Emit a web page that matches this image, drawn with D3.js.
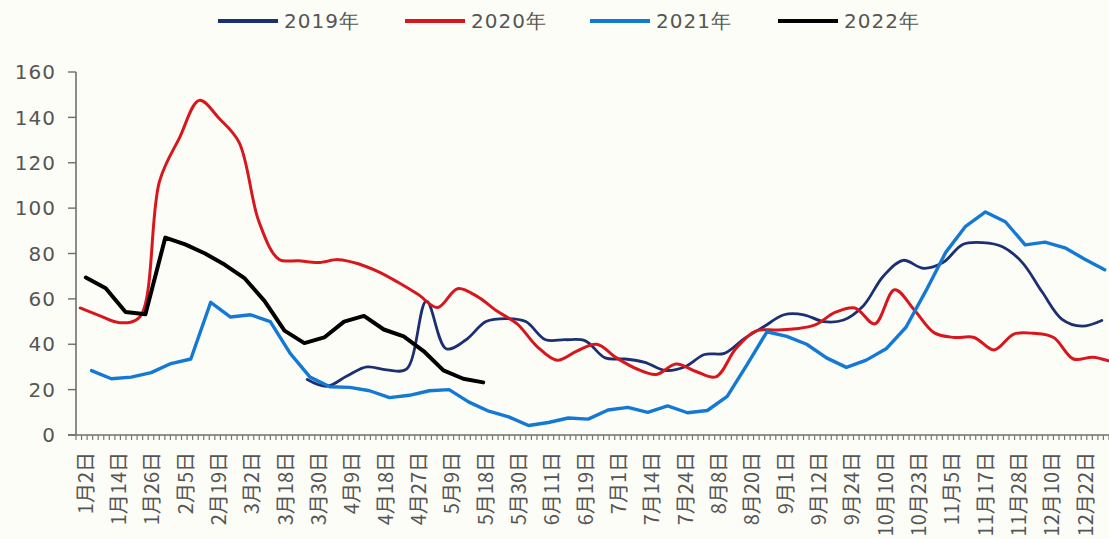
<!DOCTYPE html>
<html>
<head>
<meta charset="utf-8">
<script src="https://cdn.jsdelivr.net/npm/d3@7"></script>
<style>
  html, body { margin: 0; padding: 0; background: #fdfdf7; }
  svg { display: block; }
</style>
</head>
<body>
<div id="chart"></div>
<script>
// x axis labels (one every six minor ticks)
const dateLabels = ['1月2日', '1月14日', '1月26日', '2月5日', '2月19日', '3月2日', '3月18日', '3月30日',
  '4月9日', '4月18日', '4月27日', '5月9日', '5月18日', '5月30日', '6月11日', '6月19日', '7月1日',
  '7月14日', '7月24日', '8月8日', '8月20日', '9月1日', '9月12日', '9月24日', '10月10日', '10月23日',
  '11月5日', '11月17日', '11月28日', '12月10日', '12月22日']
const yTicks = [0, 20, 40, 60, 80, 100, 120, 140, 160]

const seriesNames = ['2019年', '2020年', '2021年', '2022年']
// day of year of each series' first weekly reading
const startDays = [79, -1, 3, 1]

const values2019 = [24.5, 21.5, 26, 30, 28.7, 29, 59, 38, 42, 50, 51.3, 50, 42, 42, 41.5, 34, 33.5, 32,
  28.5, 30, 35.5, 36, 42.5, 47.8, 53, 53, 50, 50.7, 57, 70, 77, 73.5, 76, 84, 84.8, 83, 76, 63, 51, 48, 50.5]
const values2020 = [56, 52.5, 49.5, 52, 112, 131, 147.5, 139.5, 129, 94, 77.5, 76.8, 76, 77.3, 75.5, 72,
  67.3, 62, 56.2, 64.5, 61, 54.5, 49, 39, 33, 37, 40, 34, 29.2, 26.7, 31.3, 28, 25.6, 38, 45.8, 46.3, 46.8,
  48.5, 54, 56, 49, 64, 55, 45, 43, 43, 37.5, 44.5, 44.8, 43, 33.5, 34.3, 32]
const values2021 = [28.4, 24.8, 25.5, 27.5, 31.5, 33.5, 58.5, 52, 53, 50, 36, 25.5, 21.3, 21, 19.5, 16.5,
  17.5, 19.5, 20, 14.5, 10.5, 8, 4.2, 5.5, 7.5, 7, 11, 12.2, 10, 12.8, 9.8, 10.8, 17, 31, 45.5, 43.5, 40,
  34, 29.8, 33, 38, 47.5, 63.5, 80.5, 92, 98.3, 94, 83.8, 85, 82.5, 77.5, 72.8]
const values2022 = [69.4, 64.7, 54.2, 53.2, 87, 84, 80, 75, 69, 59, 46, 40.5, 43, 50, 52.5, 46.5, 43.5,
  37, 28.5, 24.8, 23.2]

const seriesValues = [values2019, values2020, values2021, values2022]
const colors = ['#1b2f72', '#d8161d', '#1479d4', '#000000']
const widths = [2.8, 3, 3.4, 4]
const smooth = [true, true, false, false]

const width = 1109
const height = 539
const plotLeft = 76
const plotRight = 1109
const plotTop = 72
const plotBottom = 435

const svg = d3.select('#chart')
  .append('svg')
  .attr('width', width)
  .attr('height', height)

svg.append('rect')
  .attr('width', width)
  .attr('height', height)
  .attr('fill', '#fdfdf7')

const y = d3.scaleLinear().domain([0, 160]).range([plotBottom, plotTop])
// weekly readings placed by day of year
const xDay = d3.scaleLinear().domain([0, 364]).range([83, 1116])
// label axis: each label owns six minor ticks
const xLab = d3.scaleBand().domain(dateLabels).range([plotLeft, plotRight])

// y axis
const yAxis = svg.append('g').attr('class', 'y-axis')
yAxis.append('line')
  .attr('x1', plotLeft).attr('x2', plotLeft)
  .attr('y1', y(160)).attr('y2', plotBottom)
  .attr('stroke', '#6e6e6e')
  .attr('stroke-width', 1.6)
yAxis.selectAll('.ytick')
  .data(yTicks)
  .enter().append('line')
  .attr('x1', plotLeft - 8).attr('x2', plotLeft)
  .attr('y1', d => y(d)).attr('y2', d => y(d))
  .attr('stroke', '#6e6e6e')
  .attr('stroke-width', 1.4)
yAxis.selectAll('text')
  .data(yTicks)
  .enter().append('text')
  .attr('x', 56)
  .attr('y', d => y(d))
  .attr('dy', '0.36em')
  .attr('text-anchor', 'end')
  .attr('font-family', 'DejaVu Sans, sans-serif')
  .attr('font-size', 20)
  .attr('letter-spacing', 1)
  .attr('fill', '#555')
  .text(d => d)

// x axis
const xAxis = svg.append('g').attr('class', 'x-axis')
xAxis.append('line')
  .attr('x1', plotLeft - 8).attr('x2', plotRight)
  .attr('y1', plotBottom).attr('y2', plotBottom)
  .attr('stroke', '#6e6e6e')
  .attr('stroke-width', 1.6)

const minorTicks = []
dateLabels.forEach(function (d) {
  for (let i = 0; i < 6; i++) minorTicks.push(xLab(d) + xLab.step() * i / 6)
})
minorTicks.push(plotRight)
xAxis.selectAll('.mtick')
  .data(minorTicks)
  .enter().append('line')
  .attr('x1', d => d).attr('x2', d => d)
  .attr('y1', plotBottom).attr('y2', plotBottom + 5)
  .attr('stroke', '#777')
  .attr('stroke-width', 1.2)

xAxis.selectAll('text')
  .data(dateLabels)
  .enter().append('text')
  .attr('transform', d => 'translate(' + (xLab(d) + xLab.step() / 4) + ',' + (plotBottom + 17) + ') rotate(-90)')
  .attr('text-anchor', 'end')
  .attr('dominant-baseline', 'central')
  .attr('font-family', 'Noto Sans CJK SC, sans-serif')
  .attr('font-size', 20)
  .attr('fill', '#555')
  .text(d => d)

// lines
seriesNames.forEach(function (name, s) {
  const pts = seriesValues[s].map((v, i) => [xDay(startDays[s] + i * 7), y(v)])
  const line = d3.line()
    .curve(smooth[s] ? d3.curveCatmullRom.alpha(0.5) : d3.curveLinear)
  svg.append('path')
    .attr('d', line(pts))
    .attr('fill', 'none')
    .attr('stroke', colors[s])
    .attr('stroke-width', widths[s])
    .attr('stroke-linejoin', 'round')
    .attr('stroke-linecap', 'round')
})

// legend
const legendX = [218, 405, 590, 778]
const legend = svg.append('g').attr('class', 'legend')
seriesNames.forEach(function (name, s) {
  const g = legend.append('g').attr('transform', 'translate(' + legendX[s] + ',21)')
  g.append('line')
    .attr('x1', 0).attr('x2', 60)
    .attr('stroke', colors[s])
    .attr('stroke-width', 4)
  g.append('text')
    .attr('x', 66)
    .attr('dy', '0.36em')
    .attr('font-family', 'DejaVu Sans, sans-serif')
    .attr('font-size', 20)
    .attr('letter-spacing', 1)
    .attr('fill', '#555')
    .text(name)
})
</script>
</body>
</html>
